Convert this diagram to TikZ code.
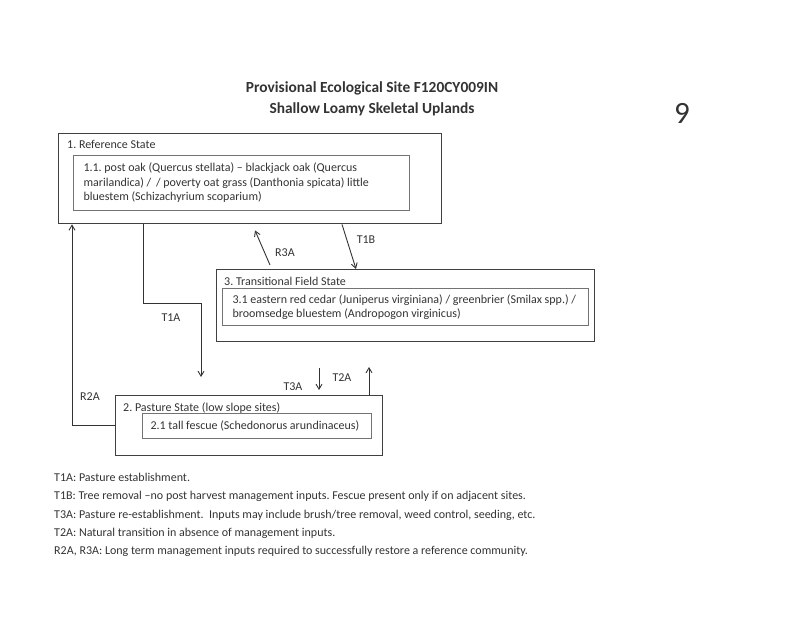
\documentclass[tikz,border=0pt]{standalone}
\usepackage{fontspec}
\setmainfont{Carlito}
\usetikzlibrary{arrows.meta,positioning,calc}
\definecolor{Ink}{gray}{0.2}
\definecolor{Frame}{gray}{0.25}
\definecolor{Inner}{gray}{0.45}
\frenchspacing

\begin{document}
\begin{tikzpicture}[x=1pt, y=-1pt, >={Straight Barb[length=5pt,width=6pt]},
  statebox/.style={draw=Frame, line width=1.4pt, anchor=north west, inner sep=0pt},
  phasebox/.style={draw=Inner, line width=1pt, anchor=north west, align=flush left, inner ysep=0pt, font=\fontsize{12}{14.5}\selectfont, text=Ink},
  statename/.style={anchor=west, inner sep=0pt, font=\fontsize{12}{13}\selectfont, text=Ink},
  lab/.style={inner sep=0pt, font=\fontsize{12}{13}\selectfont, text=Ink},
  arr/.style={->, line width=0.9pt, draw=Ink} ]

\useasboundingbox (0,0) rectangle (800,617);

\node[align=center, font=\bfseries\fontsize{15.4}{21}\selectfont, text=Ink] (title) at (372,99) {Provisional Ecological Site F120CY009IN\\ Shallow Loamy Skeletal Uplands};
\node[font=\fontsize{31}{31}\selectfont, text=Ink] (page) at (682,113) {9};

% states
\node[statebox, minimum width=383pt, minimum height=90pt] (ref) at (58,133) {};
\node[statename] (refname) at (67,144) {1. Reference State};
\node[phasebox, text width=316pt, inner xsep=10pt, minimum height=55pt] (refphase) at (73,155) {1.1. post oak (Quercus stellata) -- blackjack oak (Quercus\\ marilandica) / \,/ poverty oat grass (Danthonia spicata) little\\ bluestem (Schizachyrium scoparium)};

\node[statebox, minimum width=378pt, minimum height=72pt] (trans) at (216,269) {};
\node[statename] (transname) at (224,281) {3. Transitional Field State};
\node[phasebox, text width=346pt, inner xsep=10pt, minimum height=37pt] (transphase) at (222,288) {3.1 eastern red cedar (Juniperus virginiana) / greenbrier (Smilax spp.) /\\ broomsedge bluestem (Andropogon virginicus)};

\node[statebox, minimum width=267pt, minimum height=60pt] (pas) at (115,395) {};
\node[statename] (pasname) at (123,408) {2. Pasture State (low slope sites)};
\node[phasebox, text width=213pt, inner xsep=8pt, minimum height=25pt] (pasphase) at (142,413) {2.1 tall fescue (Schedonorus arundinaceus)};

% transitions
\draw[arr] ([xshift=85pt]ref.south west) -- ++(0,79) -| ([xshift=86pt,yshift=18pt]pas.north west);
\node[lab] (t1a) at (171,318) {T1A};
\draw[arr] ([xshift=284pt]ref.south west) -- ([xshift=140pt]trans.north west);
\node[lab] (t1b) at (366,240) {T1B};
\draw[arr] ([xshift=54pt,yshift=4pt]trans.north west) -- ([xshift=197pt,yshift=-6pt]ref.south west);
\node[lab] (r3a) at (285,253) {R3A};
\draw[arr] (pas.west) -| ([xshift=14pt]ref.south west);
\node[lab] (r2a) at (90,397) {R2A};
\draw[arr] ([xshift=204pt,yshift=27pt]pas.north west) -- ([xshift=204pt,yshift=5pt]pas.north west);
\node[lab] (t3a) at (293,387) {T3A};
\draw[arr] ([xshift=254pt]pas.north west) -- ([xshift=254pt,yshift=28pt]pas.north west);
\node[lab] (t2a) at (342,378) {T2A};

\node[anchor=north west, align=left, inner sep=0pt, font=\fontsize{12}{18.3}\selectfont, text=Ink] (legend) at (54,473) {T1A: Pasture establishment.\\
T1B: Tree removal --no post harvest management inputs. Fescue present only if on adjacent sites.\\
T3A: Pasture re-establishment. \ Inputs may include brush/tree removal, weed control, seeding, etc.\\
T2A: Natural transition in absence of management inputs.\\
R2A, R3A: Long term management inputs required to successfully restore a reference community.};

\end{tikzpicture}
\end{document}
